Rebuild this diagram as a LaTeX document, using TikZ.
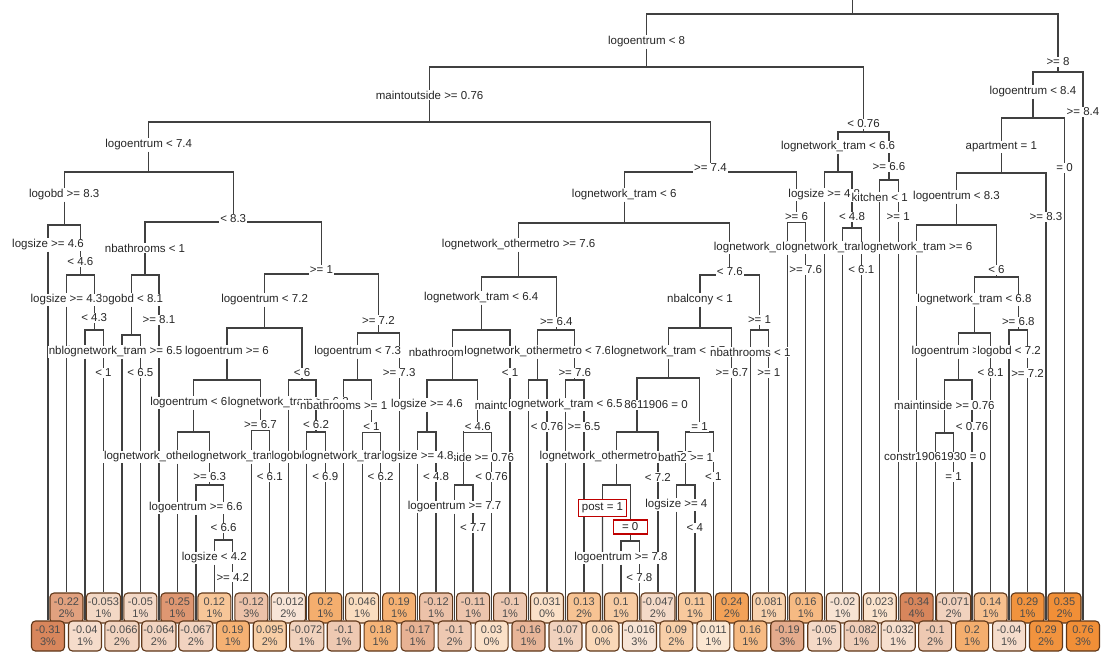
\documentclass[tikz,border=0pt]{standalone}
\usepackage{fontspec}
\setmainfont{Liberation Sans}
\usetikzlibrary{backgrounds}
\definecolor{posc}{RGB}{240,138,45}
\definecolor{negc}{RGB}{214,128,84}
\definecolor{cream}{RGB}{253,245,235}
\definecolor{edgec}{RGB}{95,55,25}
\tikzset{x=1pt, y=-1pt,
	splitlab/.style={fill=white, inner sep=1pt, text=black!85, font=\fontsize{11.5}{12}\selectfont},
	leafbox/.style={draw=edgec, line width=1.1pt, rounded corners=4pt, minimum width=33pt, minimum height=30pt, inner xsep=1.5pt, inner ysep=1pt, align=center, text=black!70, font=\fontsize{11}{12}\selectfont},
	markbox/.style={draw=red!75!black, line width=1.2pt, inner sep=3pt},
	branch/.style={draw=black!75, line width=1.3pt}}

\begin{document}
\begin{tikzpicture}
	\useasboundingbox (0,0) rectangle (1102,662);
	\coordinate (r) at (852.3,0);
	\coordinate (rb) at (852.3,14);
	% splits: name/x/label y/bar y/text
	\foreach \p/\x/\y/\yb/\txt in {
		rL/646.6/42/67/logoentrum < 8,
		rR/1058.0/62/72/>= 8,
		rLL/429.6/95/122/maintoutside >= 0.76,
		rLR/863.5/124/132/< 0.76,
		rRL/1032.9/92/118/logoentrum < 8.4,
		rLLL/148.7/145/172/logoentrum < 7.4,
		rLLR/710.4/168/172/>= 7.4,
		rLRL/838.1/147/172/lognetwork\_tram < 6.6,
		rLRR/889.0/167/180/>= 6.6,
		rRLL/1001.3/147/173/apartment = 1,
		rLLLL/64.2/195/225/logobd >= 8.3,
		rLLLR/233.2/219/222/< 8.3,
		rLLRL/624.2/195/223/lognetwork\_tram < 6,
		rLLRR/796.5/217/222/>= 6,
		rLRLR/852.0/217/228/< 4.8,
		rRLLL/956.5/197/225/logoentrum < 8.3,
		rLLLLR/80.4/262/275/< 4.6,
		rLLLRL/145.0/248/275/nbathrooms < 1,
		rLLLRR/321.5/270/274/>= 1,
		rLLRLL/518.7/245/277/lognetwork\_othermetro >= 7.6,
		rLLRLR/729.8/272/275/< 7.6,
		rRLLLR/996.4/270/277/< 6,
		rLLLLRR/94.2/318/330/< 4.3,
		rLLLRLL/131.2/300/335/logobd < 8.1,
		rLLLRRL/264.6/300/328/logoentrum < 7.2,
		rLLLRRR/378.4/320/333/>= 7.2,
		rLLRLLL/481.2/298/330/lognetwork\_tram < 6.4,
		rLLRLLR/556.3/322/330/>= 6.4,
		rLLRLRL/700.0/300/328/nbalcony < 1,
		rLLRLRR/759.5/320/330/>= 1,
		rRLLLRL/974.4/300/333/lognetwork\_tram < 6.8,
		rRLLLRR/1018.3/322/330/>= 6.8,
		rLLLRRLL/227.0/352/380/logoentrum >= 6,
		rLLLRRLR/302.1/373/380/< 6,
		rLLLRRRL/357.6/352/380/logoentrum < 7.3,
		rLLRLLLL/452.3/352/380/nbathrooms >= 1,
		rLLRLLRL/537.8/352/380/lognetwork\_othermetro < 7.6,
		rLLRLLRR/574.8/373/380/>= 7.6,
		rLLRLRLL/668.3/352/378/lognetwork\_tram < 6.7,
		rRLLLRLL/958.2/352/380/logoentrum >= 8.1,
		rLLLRRLLL/193.6/403/432/logoentrum < 6.7,
		rLLLRRLLR/260.5/425/430/>= 6.7,
		rLLLRRLRR/316.0/425/432/< 6.2,
		rLLLRRRLR/371.4/427/432/< 1,
		rLLRLLLLL/426.9/405/432/logsize >= 4.6,
		rLLRLLLLR/477.7/427/432/< 4.6,
		rLLRLRLLL/637.1/405/432/constr18611906 = 0,
		rLLRLRLLR/699.5/427/432/= 1,
		rRLLLRLLL/944.4/405/433/maintinside >= 0.76,
		rLLLRRLLLR/209.7/477/485/>= 6.3,
		rLLRLLLLRL/463.8/457/485/maintinside >= 0.76,
		rLLRLRLLLL/616.3/457/485/lognetwork\_othermetro >= 7.2,
		rLLRLRLLRL/685.6/457/485/bath2 >= 1,
		rLLLRRLLLRR/223.6/528/540/< 6.6}{
		\node[splitlab] (\p) at (\x,\y) {\txt};
		\coordinate (\p b) at (\x,\yb);
	}
	\node[splitlab, markbox, minimum width=34pt] (rLLRLRLLLLR) at (630.2,527) {= 0};
	\coordinate (rLLRLRLLLLRb) at (630.2,541);
	% leaf branches: name/leaf/label y/text
	\foreach \p/\i/\y/\txt in {
		rLLLLL/1/245/logsize >= 4.6,
		rLLLLRL/2/300/logsize >= 4.3,
		rLLLLRRL/3/352/nbalcony >= 1,
		rLLLLRRR/4/373/< 1,
		rLLLRLLL/5/352/lognetwork\_tram >= 6.5,
		rLLLRLLR/6/373/< 6.5,
		rLLLRLR/7/320/>= 8.1,
		rLLLRRLLLL/8/457/lognetwork\_othermetro < 6.3,
		rLLLRRLLLRL/9/508/logoentrum >= 6.6,
		rLLLRRLLLRRL/10/558/logsize < 4.2,
		rLLLRRLLLRRR/11/577/>= 4.2,
		rLLLRRLLRL/12/457/lognetwork\_tram >= 6.1,
		rLLLRRLLRR/13/477/< 6.1,
		rLLLRRLRL/14/403/lognetwork\_tram >= 6.2,
		rLLLRRLRRL/15/457/logobd >= 6.9,
		rLLLRRLRRR/16/477/< 6.9,
		rLLLRRRLL/17/405/nbathrooms >= 1,
		rLLLRRRLRL/18/457/lognetwork\_tram >= 6.2,
		rLLLRRRLRR/19/477/< 6.2,
		rLLLRRRR/20/373/>= 7.3,
		rLLRLLLLLL/21/457/logsize >= 4.8,
		rLLRLLLLLR/22/477/< 4.8,
		rLLRLLLLRLL/23/507/logoentrum >= 7.7,
		rLLRLLLLRLR/24/528/< 7.7,
		rLLRLLLLRR/25/477/< 0.76,
		rLLRLLLR/26/373/< 1,
		rLLRLLRLL/27/405/maintoutside >= 0.76,
		rLLRLLRLR/28/427/< 0.76,
		rLLRLLRRL/29/405/lognetwork\_tram < 6.5,
		rLLRLLRRR/30/427/>= 6.5,
		rLLRLRLLLLRL/32/558/logoentrum >= 7.8,
		rLLRLRLLLLRR/33/578/< 7.8,
		rLLRLRLLLR/34/477/< 7.2,
		rLLRLRLLRLL/35/505/logsize >= 4,
		rLLRLRLLRLR/36/528/< 4,
		rLLRLRLLRR/37/477/< 1,
		rLLRLRLR/38/373/>= 6.7,
		rLLRLRRL/39/352/nbathrooms < 1,
		rLLRLRRR/40/373/>= 1,
		rLLRRL/41/248/lognetwork\_othermetro < 7.6,
		rLLRRR/42/270/>= 7.6,
		rLRLL/43/195/logsize >= 4.8,
		rLRLRL/44/248/lognetwork\_tram >= 6.1,
		rLRLRR/45/270/< 6.1,
		rLRRL/46/197/kitchen < 1,
		rLRRR/47/217/>= 1,
		rRLLLL/48/248/lognetwork\_tram >= 6,
		rRLLLRLLLL/49/457/constr19061930 = 0,
		rRLLLRLLLR/50/477/= 1,
		rRLLLRLLR/51/427/< 0.76,
		rRLLLRLR/52/373/< 8.1,
		rRLLLRRL/53/352/logobd < 7.2,
		rRLLLRRR/54/373/>= 7.2,
		rRLLR/55/217/>= 8.3,
		rRLR/56/168/= 0,
		rRR/57/112/>= 8.4}{
		\node[splitlab] (\p) at ({48+18.482*(\i-1)},\y) {\txt};
	}
	\node[splitlab, markbox] (rLLRLRLLLLL) at (602.5,508) {post = 1};
	% leaves: top row, then bottom row
	\foreach \i/\val/\pc in {2/-0.22/2, 4/-0.053/1, 6/-0.05/1, 8/-0.25/1, 10/0.12/1, 12/-0.12/3, 14/-0.012/2,
		16/0.2/1, 18/0.046/1, 20/0.19/1, 22/-0.12/1, 24/-0.11/1, 26/-0.1/1, 28/0.031/0, 30/0.13/2, 32/0.1/1,
		34/-0.047/2, 36/0.11/1, 38/0.24/2, 40/0.081/1, 42/0.16/1, 44/-0.02/1, 46/0.023/1, 48/-0.34/4,
		50/-0.071/2, 52/0.14/1, 54/0.29/1, 56/0.35/2,
		1/-0.31/3, 3/-0.04/1, 5/-0.066/2, 7/-0.064/2, 9/-0.067/2, 11/0.19/1, 13/0.095/2, 15/-0.072/1,
		17/-0.1/1, 19/0.18/1, 21/-0.17/1, 23/-0.1/2, 25/0.03/0, 27/-0.16/1, 29/-0.07/1, 31/0.06/0,
		33/-0.016/3, 35/0.09/2, 37/0.011/1, 39/0.16/1, 41/-0.19/3, 43/-0.05/1, 45/-0.082/1, 47/-0.032/1,
		49/-0.1/2, 51/0.2/1, 53/-0.04/1, 55/0.29/2, 57/0.76/3}{
		\pgfmathsetmacro{\xx}{48+18.482*(\i-1)}
		\pgfmathsetmacro{\yy}{mod(\i,2)==1 ? 636 : 608}
		\pgfmathsetmacro{\mx}{min(95,10+280*abs(\val))}
		\ifdim\val pt<0pt \def\sg{negc}\else\def\sg{posc}\fi
		\node[leafbox, fill=\sg!\mx!cream] (b\i) at (\xx,\yy) {\val\\\pc\%};
	}
	\begin{scope}[on background layer]
		\foreach \p in {r, rL, rR, rLL, rLR, rRL, rLLL, rLLR, rLRL, rLRR, rRLL, rLLLL, rLLLR, rLLRL, rLLRR,
			rLRLR, rRLLL, rLLLLR, rLLLRL, rLLLRR, rLLRLL, rLLRLR, rRLLLR, rLLLLRR, rLLLRLL, rLLLRRL, rLLLRRR,
			rLLRLLL, rLLRLLR, rLLRLRL, rLLRLRR, rRLLLRL, rRLLLRR, rLLLRRLL, rLLLRRLR, rLLLRRRL, rLLRLLLL,
			rLLRLLRL, rLLRLLRR, rLLRLRLL, rRLLLRLL, rLLLRRLLL, rLLLRRLLR, rLLLRRLRR, rLLLRRRLR, rLLRLLLLL,
			rLLRLLLLR, rLLRLRLLL, rLLRLRLLR, rRLLLRLLL, rLLLRRLLLR, rLLRLLLLRL, rLLRLRLLLL, rLLRLRLLRL,
			rLLLRRLLLRR, rLLRLRLLLLR}{
			\draw[branch] (\p) -- (\p b) -| (\p L);
			\draw[branch] (\p b) -| (\p R);
		}
		\foreach \p/\i in {rLLLLL/1, rLLLLRL/2, rLLLLRRL/3, rLLLLRRR/4, rLLLRLLL/5, rLLLRLLR/6, rLLLRLR/7,
			rLLLRRLLLL/8, rLLLRRLLLRL/9, rLLLRRLLLRRL/10, rLLLRRLLLRRR/11, rLLLRRLLRL/12, rLLLRRLLRR/13,
			rLLLRRLRL/14, rLLLRRLRRL/15, rLLLRRLRRR/16, rLLLRRRLL/17, rLLLRRRLRL/18, rLLLRRRLRR/19,
			rLLLRRRR/20, rLLRLLLLLL/21, rLLRLLLLLR/22, rLLRLLLLRLL/23, rLLRLLLLRLR/24, rLLRLLLLRR/25,
			rLLRLLLR/26, rLLRLLRLL/27, rLLRLLRLR/28, rLLRLLRRL/29, rLLRLLRRR/30, rLLRLRLLLLL/31,
			rLLRLRLLLLRL/32, rLLRLRLLLLRR/33, rLLRLRLLLR/34, rLLRLRLLRLL/35, rLLRLRLLRLR/36, rLLRLRLLRR/37,
			rLLRLRLR/38, rLLRLRRL/39, rLLRLRRR/40, rLLRRL/41, rLLRRR/42, rLRLL/43, rLRLRL/44, rLRLRR/45,
			rLRRL/46, rLRRR/47, rRLLLL/48, rRLLLRLLLL/49, rRLLLRLLLR/50, rRLLLRLLR/51, rRLLLRLR/52,
			rRLLLRRL/53, rRLLLRRR/54, rRLLR/55, rRLR/56, rRR/57}{
			\draw[branch] (\p) -- (b\i);
		}
	\end{scope}
\end{tikzpicture}
\end{document}
